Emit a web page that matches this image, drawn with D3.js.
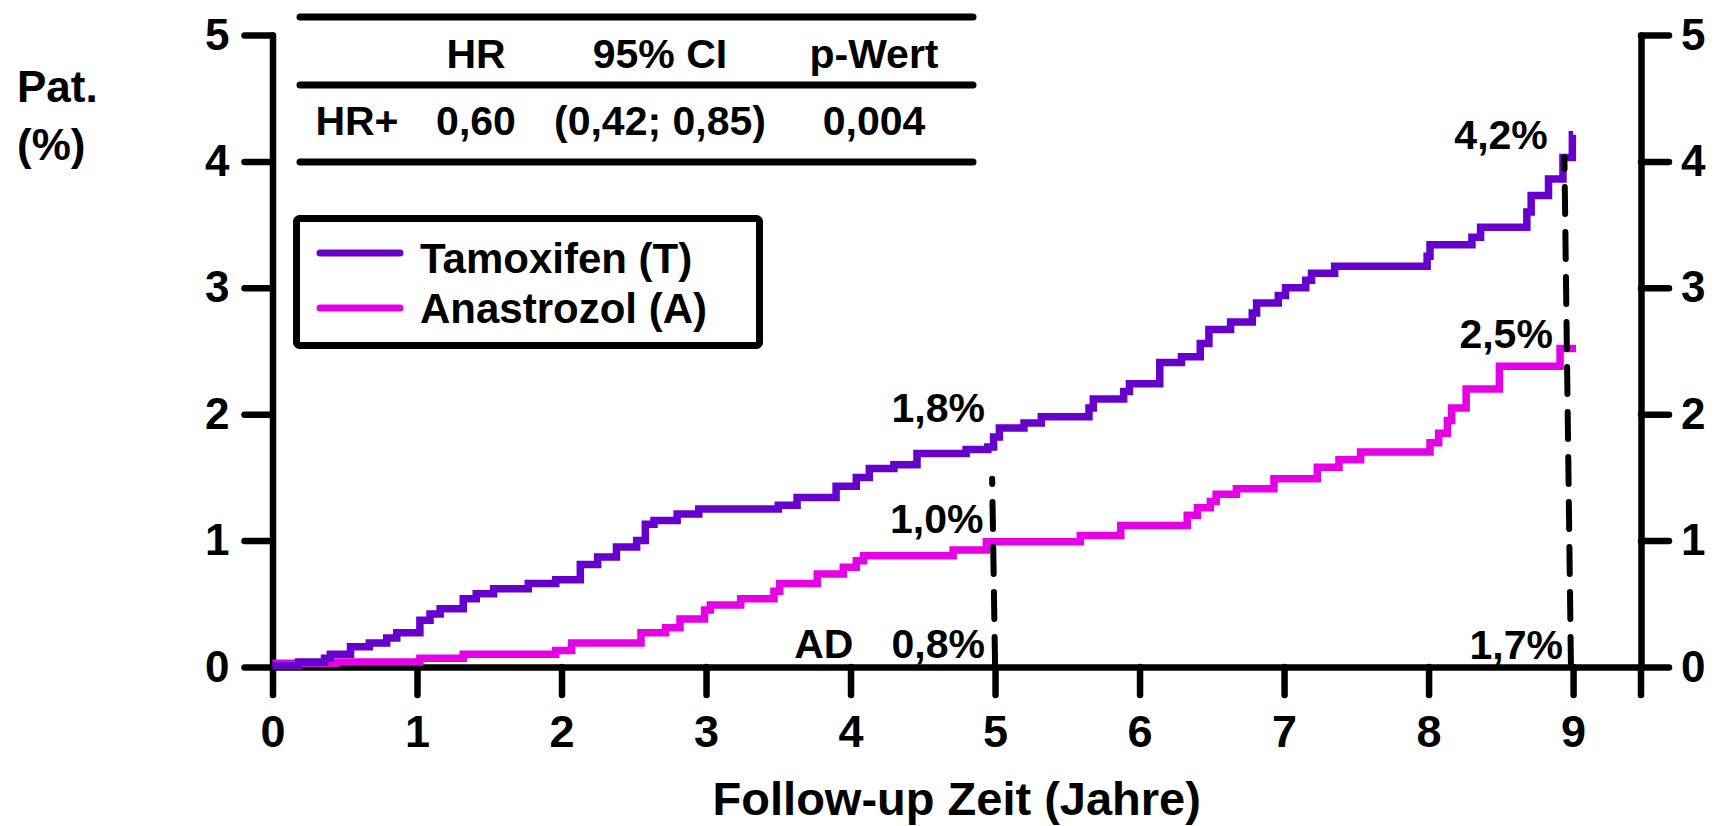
<!DOCTYPE html>
<html>
<head>
<meta charset="utf-8">
<script src="https://cdn.jsdelivr.net/npm/d3@7"></script>
<style>
    body { margin: 0; background: #fff; }
    svg text { font-family: "Liberation Sans", Arial, sans-serif; font-weight: bold; fill: #000; }
    .axis path, .axis line { stroke: #000; stroke-width: 6.5; stroke-linecap: round; }
</style>
</head>
<body>
<div id="chart"></div>
<script>
// Tamoxifen (T): step function, [year, cumulative % of patients]
const tamoxifen = [
    [0, 0.01], [0.18, 0.04], [0.36, 0.07], [0.40, 0.10], [0.54, 0.16], [0.67, 0.19],
    [0.79, 0.23], [0.86, 0.27], [1.02, 0.37], [1.09, 0.42], [1.16, 0.46], [1.32, 0.54],
    [1.41, 0.58], [1.53, 0.62], [1.77, 0.66], [1.96, 0.69], [2.13, 0.81], [2.25, 0.87],
    [2.38, 0.95], [2.52, 1.00], [2.58, 1.13], [2.64, 1.16], [2.80, 1.21], [2.95, 1.25],
    [3.50, 1.28], [3.63, 1.34], [3.90, 1.43], [4.04, 1.50], [4.13, 1.57], [4.30, 1.60],
    [4.46, 1.69], [4.80, 1.72], [4.95, 1.74], [4.99, 1.82], [5.03, 1.89], [5.20, 1.93],
    [5.32, 1.98], [5.65, 2.05], [5.68, 2.12], [5.89, 2.18], [5.93, 2.24], [6.14, 2.41],
    [6.29, 2.455], [6.42, 2.56], [6.48, 2.67], [6.63, 2.73], [6.78, 2.80], [6.81, 2.88],
    [6.96, 2.94], [7.01, 3.00], [7.15, 3.06], [7.19, 3.115], [7.35, 3.17], [7.99, 3.25],
    [8.01, 3.34], [8.30, 3.40], [8.36, 3.48], [8.68, 3.60], [8.71, 3.73], [8.83, 3.86],
    [8.93, 4.03], [8.995, 4.21], [9.0, 4.21]
];

// Anastrozol (A)
const anastrozol = [
    [0, 0.03], [0.44, 0.04], [1.02, 0.07], [1.32, 0.10], [1.96, 0.13], [2.07, 0.19],
    [2.55, 0.27], [2.72, 0.31], [2.82, 0.38], [2.99, 0.45], [3.03, 0.49], [3.24, 0.54],
    [3.47, 0.60], [3.51, 0.66], [3.77, 0.735], [3.95, 0.79], [4.04, 0.84], [4.09, 0.88],
    [4.71, 0.925], [4.94, 0.99], [5.59, 1.04], [5.87, 1.12], [6.33, 1.20], [6.40, 1.26],
    [6.49, 1.31], [6.53, 1.366], [6.67, 1.41], [6.93, 1.49], [7.23, 1.58], [7.38, 1.64],
    [7.53, 1.70], [8.01, 1.775], [8.07, 1.85], [8.13, 1.95], [8.16, 2.05], [8.26, 2.20],
    [8.49, 2.38], [8.91, 2.52], [9.02, 2.52]
];

const seriesNames = ["Tamoxifen (T)", "Anastrozol (A)"];
const seriesColors = ["#6600cc", "#e600e6"];

const xTicks = [0, 1, 2, 3, 4, 5, 6, 7, 8, 9];
const yTicks = [0, 1, 2, 3, 4, 5];

// hazard ratio table
const tableHeader = ["", "HR", "95% CI", "p-Wert"];
const tableRow = ["HR+", "0,60", "(0,42; 0,85)", "0,004"];

// dashed drop lines at 5 and 9 years: [year, %] top and bottom
const dropLines = [
    [[4.98, 1.49], [5.0, 0]],
    [[8.94, 4.03], [8.985, 0]]
];

// percent labels, anchored (text end) in data space
const annotations = [
    { text: "1,8%", year: 4.93, value: 1.94 },
    { text: "1,0%", year: 4.92, value: 1.06 },
    { text: "0,8%", year: 4.93, value: 0.07 },
    { text: "AD", year: 4.02, value: 0.07 },
    { text: "4,2%", year: 8.825, value: 4.10 },
    { text: "2,5%", year: 8.86, value: 2.52 },
    { text: "1,7%", year: 8.93, value: 0.065 }
];

class IncidenceVis {
    constructor(_parentElement) {
        this.parentElement = _parentElement;
        this.initVis();
    }

    initVis() {
        let vis = this;

        vis.width = 1715;
        vis.height = 826;

        vis.svg = d3.select("#" + vis.parentElement)
            .append("svg")
            .attr("width", vis.width)
            .attr("height", vis.height);

        // Scales (x runs a bit past 9 years to the right axis)
        vis.x = d3.scaleLinear().domain([0, 9.47]).range([272.5, 1641]);
        vis.y = d3.scaleLinear().domain([0, 5]).range([667, 35]);

        // Axes
        vis.xAxis = d3.axisBottom(vis.x).tickValues(xTicks).tickSize(28).tickSizeOuter(0)
            .tickPadding(20).tickFormat(d3.format("d"));
        vis.yAxisLeft = d3.axisLeft(vis.y).tickValues(yTicks).tickSize(28).tickSizeOuter(0)
            .tickPadding(15).tickFormat(d3.format("d"));
        vis.yAxisRight = d3.axisRight(vis.y).tickValues(yTicks).tickSize(28).tickSizeOuter(0)
            .tickPadding(12).tickFormat(d3.format("d"));

        vis.svg.append("g")
            .attr("class", "axis x-axis")
            .attr("transform", "translate(0," + vis.y(0) + ")")
            .call(vis.xAxis)
            .selectAll("text")
            .attr("font-size", "45px");

        vis.svg.append("g")
            .attr("class", "axis y-axis")
            .attr("transform", "translate(" + vis.x(0) + ",0)")
            .call(vis.yAxisLeft)
            .selectAll("text")
            .attr("font-size", "44px");

        let rightAxis = vis.svg.append("g")
            .attr("class", "axis y-axis-right")
            .attr("transform", "translate(" + vis.x.range()[1] + ",0)")
            .call(vis.yAxisRight);
        rightAxis.selectAll("text").attr("font-size", "44px");
        // right axis continues below the x axis like a tick
        rightAxis.append("line")
            .attr("x1", 0).attr("x2", 0)
            .attr("y1", vis.y(0)).attr("y2", vis.y(0) + 28);

        vis.svg.selectAll(".axis .domain").attr("fill", "none");

        // Axis titles
        vis.svg.append("text")
            .attr("x", (vis.x.range()[0] + vis.x.range()[1]) / 2)
            .attr("y", 815)
            .attr("text-anchor", "middle")
            .attr("font-size", "47px")
            .text("Follow-up Zeit (Jahre)");

        let yTitle = vis.svg.append("text").attr("font-size", "44px");
        yTitle.append("tspan").attr("x", 17).attr("y", 102).text("Pat.");
        yTitle.append("tspan").attr("x", 17).attr("y", 160).text("(%)");

        // Curves
        vis.line = d3.line()
            .x((d) => vis.x(d[0]))
            .y((d) => vis.y(d[1]))
            .curve(d3.curveStepAfter);

        [anastrozol, tamoxifen].forEach((series, i) => {
            vis.svg.append("path")
                .datum(series)
                .attr("fill", "none")
                .attr("stroke", seriesColors[1 - i])
                .attr("stroke-width", 7.5)
                .attr("stroke-linejoin", "miter")
                .attr("d", vis.line);
        });

        // Dashed drop lines (drawn bottom up)
        vis.svg.selectAll(".drop")
            .data(dropLines)
            .enter()
            .append("line")
            .attr("class", "drop")
            .attr("x1", (d) => vis.x(d[1][0]))
            .attr("y1", (d) => vis.y(d[1][1]) - 3)
            .attr("x2", (d) => vis.x(d[0][0]))
            .attr("y2", (d) => vis.y(d[0][1]))
            .attr("stroke", "#000")
            .attr("stroke-width", 6)
            .attr("stroke-linecap", "round")
            .attr("stroke-dasharray", "27,18");

        // Percent labels
        vis.svg.selectAll(".annot")
            .data(annotations)
            .enter()
            .append("text")
            .attr("class", "annot")
            .attr("x", (d) => vis.x(d.year))
            .attr("y", (d) => vis.y(d.value))
            .attr("text-anchor", "end")
            .attr("font-size", "41px")
            .text((d) => d.text);

        // HR table
        let table = vis.svg.append("g").attr("class", "hr-table");
        const colX = [357, 476, 660, 874];
        [17, 85, 162].forEach((ly) => {
            table.append("line")
                .attr("x1", 300).attr("x2", 973)
                .attr("y1", ly).attr("y2", ly)
                .attr("stroke", "#000")
                .attr("stroke-width", 7)
                .attr("stroke-linecap", "round");
        });
        [[tableHeader, 68], [tableRow, 135]].forEach(([row, by]) => {
            table.selectAll(null)
                .data(row)
                .enter()
                .append("text")
                .attr("x", (d, i) => colX[i])
                .attr("y", by)
                .attr("text-anchor", "middle")
                .attr("font-size", "41px")
                .text((d) => d);
        });

        // Legend
        let legend = vis.svg.append("g").attr("class", "legend");
        legend.append("rect")
            .attr("x", 296.5).attr("y", 218.5)
            .attr("width", 463).attr("height", 127)
            .attr("rx", 3)
            .attr("fill", "#fff")
            .attr("stroke", "#000")
            .attr("stroke-width", 7);
        seriesNames.forEach((name, i) => {
            legend.append("line")
                .attr("x1", 320).attr("x2", 400)
                .attr("y1", 253 + i * 55).attr("y2", 253 + i * 55)
                .attr("stroke", seriesColors[i])
                .attr("stroke-width", 7)
                .attr("stroke-linecap", "round");
            legend.append("text")
                .attr("x", 420)
                .attr("y", 273 + i * 50)
                .attr("font-size", "42px")
                .text(name);
        });
    }
}

new IncidenceVis("chart");
</script>
</body>
</html>
